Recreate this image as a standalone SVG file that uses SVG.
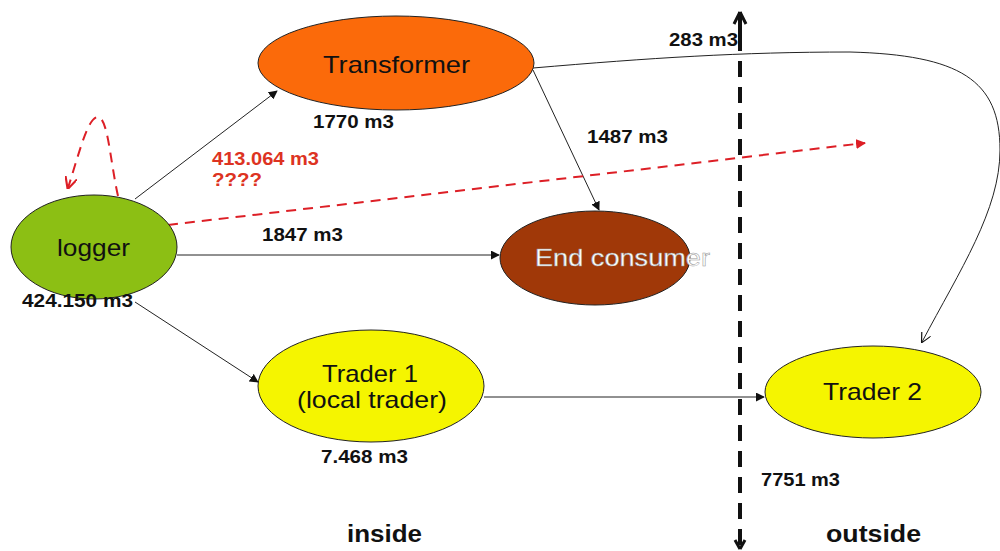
<svg xmlns="http://www.w3.org/2000/svg" width="1000" height="551" viewBox="0 0 1000 551">
<style>
.node{stroke:#222;stroke-width:1}
.lbl{font-family:"Liberation Sans",Arial,sans-serif;font-size:24px;fill:#111}
.qty{font-family:"Liberation Sans",Arial,sans-serif;font-size:17.5px;font-weight:bold;fill:#111}
.red{fill:#dd3322}
.big{font-family:"Liberation Sans",Arial,sans-serif;font-size:23px;font-weight:bold;fill:#111}
.c{fill:none;stroke:#222;stroke-width:1}
.rd{fill:none;stroke:#dd1f26;stroke-width:2;stroke-dasharray:10 7}
</style>
<defs>
<marker id="a" viewBox="0 0 10 10" refX="9" refY="5" markerWidth="9" markerHeight="9" markerUnits="userSpaceOnUse" orient="auto"><path d="M0,0 L10,5 L0,10 z" fill="#111"/></marker>
<marker id="ao" viewBox="0 0 10 10" refX="9" refY="5" markerWidth="10" markerHeight="10" markerUnits="userSpaceOnUse" orient="auto"><path d="M0,0 L10,5 L0,10" fill="none" stroke="#111" stroke-width="1.2"/></marker>
<marker id="r" viewBox="0 0 10 10" refX="9" refY="5" markerWidth="10" markerHeight="10" markerUnits="userSpaceOnUse" orient="auto"><path d="M0,0 L10,5 L0,10 z" fill="#dd1f26"/></marker>
<marker id="rv" viewBox="0 0 10 10" refX="9" refY="5" markerWidth="12" markerHeight="12" markerUnits="userSpaceOnUse" orient="auto"><path d="M0,0 L10,5 L0,10" fill="none" stroke="#dd1f26" stroke-width="1.8"/></marker>
</defs>
<rect width="1000" height="551" fill="#fff"/>
<g id="connectors">
<line x1="740" y1="545" x2="740" y2="12" stroke="#111" stroke-width="4" stroke-dasharray="16 10" fill="none"/>
<line x1="740" y1="40" x2="740" y2="12" stroke="#111" stroke-width="4"/>
<path d="M740,12 l-6,12 M740,12 l6,12" stroke="#111" stroke-width="3" fill="none"/>
<path d="M740,549 l-5,-9 M740,549 l5,-9" stroke="#111" stroke-width="3" fill="none"/>
<line class="c" x1="135" y1="199" x2="277" y2="91" marker-end="url(#a)"/>
<line class="c" x1="177" y1="255" x2="499" y2="255" marker-end="url(#a)"/>
<line class="c" x1="135" y1="302" x2="258" y2="382" marker-end="url(#a)"/>
<line class="c" x1="533" y1="70" x2="599" y2="210" marker-end="url(#a)"/>
<line class="c" x1="484" y1="397" x2="764" y2="397" marker-end="url(#a)"/>
<path class="c" d="M533,68 C650,58 740,52 850,52 C960,55 1000,80 1000,150 C1000,210 960,270 922,342" marker-end="url(#ao)"/>
<line class="rd" x1="168" y1="225" x2="865" y2="143" marker-end="url(#r)"/>
<path class="rd" d="M118,196 C110,160 108,118 98,117 C88,117 80,150 68,188" marker-end="url(#rv)"/>
</g>
<g id="logger">
<ellipse class="node" cx="94" cy="247" rx="83" ry="52" fill="#8cbf14"/>
<text class="lbl" x="57" y="256" textLength="73" lengthAdjust="spacingAndGlyphs">logger</text>
</g>
<g id="transformer">
<ellipse class="node" cx="396" cy="63" rx="138" ry="47" fill="#fb6a0a"/>
<text class="lbl" x="323" y="73" textLength="147" lengthAdjust="spacingAndGlyphs">Transformer</text>
</g>
<g id="endconsumer">
<ellipse class="node" cx="595" cy="258" rx="95" ry="47" fill="#a03808"/>
<text class="lbl" x="535" y="266" textLength="175" lengthAdjust="spacingAndGlyphs" stroke="#999" stroke-width="0.5" style="fill:#fff">End consumer</text>
</g>
<g id="trader1">
<ellipse class="node" cx="371" cy="386" rx="113" ry="56" fill="#f5f500"/>
<text class="lbl" x="322" y="382" textLength="96" lengthAdjust="spacingAndGlyphs">Trader 1</text>
<text class="lbl" x="297" y="408" textLength="150" lengthAdjust="spacingAndGlyphs">(local trader)</text>
</g>
<g id="trader2">
<ellipse class="node" cx="873" cy="392" rx="108" ry="46" fill="#f5f500"/>
<text class="lbl" x="823" y="400" textLength="99" lengthAdjust="spacingAndGlyphs">Trader 2</text>
</g>
<g id="labels">
<text class="qty" x="313" y="128" textLength="81" lengthAdjust="spacingAndGlyphs">1770 m3</text>
<text class="qty red" x="212" y="165" textLength="107" lengthAdjust="spacingAndGlyphs">413.064 m3</text>
<text class="qty red" x="212" y="186" textLength="50" lengthAdjust="spacingAndGlyphs">????</text>
<text class="qty" x="262" y="241" textLength="81" lengthAdjust="spacingAndGlyphs">1847 m3</text>
<text class="qty" x="22" y="307" textLength="111" lengthAdjust="spacingAndGlyphs">424.150 m3</text>
<text class="qty" x="587" y="143" textLength="81" lengthAdjust="spacingAndGlyphs">1487 m3</text>
<text class="qty" x="669" y="46" textLength="69" lengthAdjust="spacingAndGlyphs">283 m3</text>
<text class="qty" x="321" y="463" textLength="87" lengthAdjust="spacingAndGlyphs">7.468 m3</text>
<text class="qty" x="761" y="486" textLength="79" lengthAdjust="spacingAndGlyphs">7751 m3</text>
<text class="big" x="347" y="542" textLength="75" lengthAdjust="spacingAndGlyphs">inside</text>
<text class="big" x="826" y="542" textLength="95" lengthAdjust="spacingAndGlyphs">outside</text>
</g>
</svg>
